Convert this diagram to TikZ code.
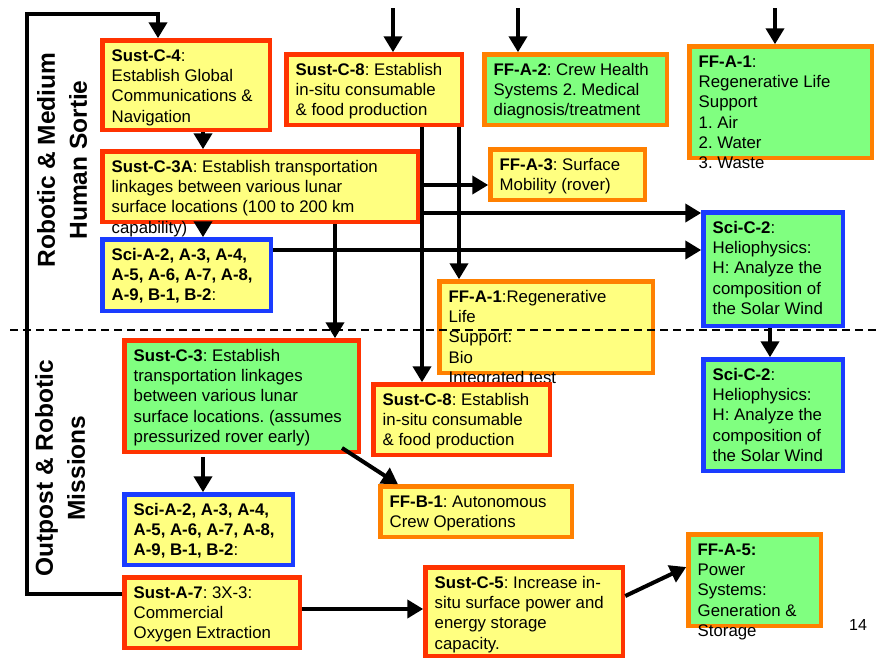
\documentclass[tikz,border=0pt]{standalone}
\usepackage{fontspec}
\setmainfont{Liberation Sans}
\usetikzlibrary{arrows.meta}
\definecolor{yel}{RGB}{255,255,128}
\definecolor{grn}{RGB}{128,255,128}
\definecolor{rd}{RGB}{255,51,0}
\definecolor{org}{RGB}{255,128,0}
\definecolor{blu}{RGB}{26,60,255}
\frenchspacing
\newcommand\mkbox[7]{%
  \node[#6, minimum width={#4-#2-4.5}, minimum height={#5-#3-4.5}] (#1) at ({#2+2.25},{#3+2.25}) {};
  \node[txt] (#1t) at ({#2+13.5},{#3+12}) {\rule{0pt}{13pt}#7};
}
\begin{document}
\begin{tikzpicture}[x=1pt,y=-1pt,
  boxbase/.style={draw, line width=4.5pt, anchor=north west, inner sep=0pt, outer sep=2.25pt, rectangle},
  ry/.style={boxbase, draw=rd, fill=yel},
  rg/.style={boxbase, draw=rd, fill=grn},
  oy/.style={boxbase, draw=org, fill=yel},
  og/.style={boxbase, draw=org, fill=grn},
  by/.style={boxbase, draw=blu, fill=yel},
  bg/.style={boxbase, draw=blu, fill=grn},
  txt/.style={anchor=north west, inner sep=0pt, align=left, font=\fontsize{16.8}{20.3}\selectfont},
  con/.style={line width=4pt, -{Triangle[length=16pt,width=18pt]}},
  lab/.style={rotate=90, align=center, inner sep=0pt, font=\bfseries\fontsize{24.5}{32}\selectfont},
  sep/.style={line width=2pt, dash pattern=on 8pt off 5pt},
]
\useasboundingbox (0,0) rectangle (878,657);
% reference coordinates
\coordinate (fbA) at (27,594);
\coordinate (fbB) at (158,14);
\coordinate (t1) at (393,8);
\coordinate (t2) at (518,8);
\coordinate (t3) at (775,8);
\coordinate (xa) at (203,0);
\coordinate (xb) at (335,0);
\coordinate (xc) at (422,0);
\coordinate (xd) at (459,0);
\coordinate (xe) at (770,0);
\coordinate (ya) at (0,185);
\coordinate (yb) at (0,213);
\coordinate (yc) at (0,250);
\coordinate (yd) at (0,609);
\coordinate (d1) at (342,448);
\coordinate (d2) at (398,0);
\coordinate (ye) at (0,596);
\coordinate (yf) at (0,567);
\coordinate (dl1) at (10,330);
\coordinate (dl2) at (878,330);

% boxes (drawn first so that the named anchors exist)
\mkbox{c4}{98}{36}{270}{130}{ry}{\textbf{Sust-C-4}:\\Establish Global\\Communications \&\\Navigation}
\mkbox{c8a}{282}{50}{462}{125}{ry}{\textbf{Sust-C-8}: Establish\\in-situ consumable\\\& food production}
\mkbox{fa2}{480}{50}{667}{125}{og}{\textbf{FF-A-2}: Crew Health\\Systems 2. Medical\\diagnosis/treatment}
\mkbox{fa1a}{685}{42}{872}{158}{og}{\textbf{FF-A-1}:\\Regenerative Life\\Support\\1. Air\\2. Water\\3. Waste}
\mkbox{c3a}{98}{147}{418}{222}{ry}{\textbf{Sust-C-3A}: Establish transportation\\linkages between various lunar\\surface locations (100 to 200 km\\capability)}
\mkbox{fa3}{486}{145}{645}{200}{oy}{\textbf{FF-A-3}: Surface\\Mobility (rover)}
\mkbox{sa2a}{98}{235}{271}{311}{by}{\textbf{Sci-A-2, A-3, A-4,}\\\textbf{A-5, A-6, A-7, A-8,}\\\textbf{A-9, B-1, B-2}:}
\mkbox{scc2a}{699}{208}{843}{326}{bg}{\textbf{Sci-C-2}:\\Heliophysics:\\H: Analyze the\\composition of\\the Solar Wind}
\mkbox{fa1b}{435}{277}{653}{373}{oy}{\textbf{FF-A-1}:Regenerative\\Life\\Support:\\Bio\\Integrated test}
\mkbox{c3}{120}{336}{359}{452}{rg}{\textbf{Sust-C-3}: Establish\\transportation linkages\\between various lunar\\surface locations. (assumes\\pressurized rover early)}
\mkbox{c8b}{369}{380}{550}{455}{ry}{\textbf{Sust-C-8}: Establish\\in-situ consumable\\\& food production}
\mkbox{scc2b}{699}{355}{843}{471}{bg}{\textbf{Sci-C-2}:\\Heliophysics:\\H: Analyze the\\composition of\\the Solar Wind}
\mkbox{fb1}{376}{482}{572}{537}{oy}{\textbf{FF-B-1}: Autonomous\\Crew Operations}
\mkbox{sa2b}{120}{490}{293}{565}{by}{\textbf{Sci-A-2, A-3, A-4,}\\\textbf{A-5, A-6, A-7, A-8,}\\\textbf{A-9, B-1, B-2}:}
\mkbox{sa7}{120}{573}{300}{648}{ry}{\textbf{Sust-A-7}: 3X-3:\\Commercial\\Oxygen Extraction}
\mkbox{c5}{421}{563}{623}{656}{ry}{\textbf{Sust-C-5}: Increase in-\\situ surface power and\\energy storage\\capacity.}
\mkbox{fa5}{684}{530}{821}{626}{og}{\textbf{FF-A-5:}\\Power\\Systems:\\Generation \&\\Storage}

% connectors
\draw[con] (sa7.west |- fbA) -- (fbA) |- (fbB) -- (c4.north -| fbB);
\draw[con] (t1) -- (c8a.north -| t1);
\draw[con] (t2) -- (fa2.north -| t2);
\draw[con] (t3) -- (fa1a.north -| t3);
\draw[con] (c4.south -| xa) -- (c3a.north -| xa);
\draw[con] (c3a.south -| xa) -- (sa2a.north -| xa);
\draw[con] (c3a.east |- ya) -- (fa3.west |- ya);
\draw[con] (c3a.east |- yb) -- (scc2a.west |- yb);
\draw[con] (sa2a.east |- yc) -- (scc2a.west |- yc);
\draw[con] (c3a.south -| xb) -- (c3.north -| xb);
\draw[con] (c8a.south -| xc) -- (c8b.north -| xc);
\draw[con] (c8a.south -| xd) -- (fa1b.north -| xd);
\draw[con] (scc2a.south -| xe) -- (scc2b.north -| xe);
\draw[con] ([yshift=-3pt]c3.south -| xa) -- (sa2b.north -| xa);
\draw[con] (d1) -- (fb1.north -| d2);
\draw[con] (sa7.east |- yd) -- (c5.west |- yd);
\draw[con] (c5.east |- ye) -- (fa5.west |- yf);

\draw[sep] (dl1) -- (dl2);

% side labels and page number
\node[lab] (lab1) at (62,160) {Robotic \& Medium\\Human Sortie};
\node[lab] (lab2) at (60,468) {Outpost \& Robotic\\Missions};
\node[anchor=base west, inner sep=0pt, font=\fontsize{16}{19}\selectfont] (pg) at (849,630) {14};
\end{tikzpicture}
\end{document}
